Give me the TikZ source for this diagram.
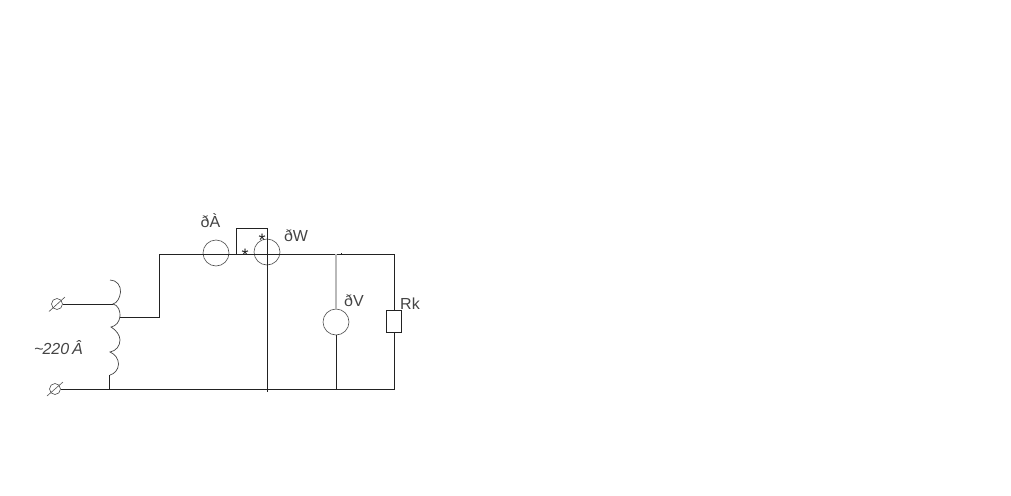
\documentclass[tikz,border=0pt]{standalone}
\usepackage{fontspec}
\setmainfont{Liberation Sans}
\definecolor{ink}{HTML}{222222}
\definecolor{txt}{HTML}{444444}
\tikzset{
  wire/.style={draw=ink,line width=0.9pt},
  meter/.style={circle,draw=ink!80,line width=0.6pt,minimum size=26pt,inner sep=0pt,fill=none},
  term/.style={circle,draw=ink!80,line width=0.6pt,minimum size=11pt,inner sep=0pt},
  lbl/.style={text=txt,font=\fontsize{16}{16}\selectfont,inner sep=0pt},
  starlbl/.style={text=ink,font=\fontsize{18}{18}\selectfont,inner sep=0pt},
  load/.style={rectangle,draw=ink,line width=0.7pt,minimum width=15pt,minimum height=22pt,inner sep=0pt}
}
\begin{document}
\begin{tikzpicture}[x=1pt,y=-1pt]
\useasboundingbox (0,0) rectangle (1011,495);
% nodes
\node[term] (t1) at (57,304) {};
\node[term] (t2) at (55,389) {};
\node[meter] (mA) at (216,253) {};
\node[meter] (mW) at (267,252) {};
\node[meter] (mV) at (336,322) {};
\node[load] (rk) at (394,321) {};
% coordinates
\coordinate (c0) at (110,280);
\coordinate (c1) at (113,304);
\coordinate (c2) at (111,327);
\coordinate (c3) at (110,352);
\coordinate (c4) at (110,375);
\coordinate (tap) at (120,317);
\coordinate (b0) at (109,389.4);
\coordinate (a) at (159,317);
\coordinate (b) at (159,254);
\coordinate (tr) at (394,254);
\coordinate (br) at (394,389.4);
\coordinate (j) at (336,254);
\coordinate (jb) at (336,389.4);
\coordinate (p1) at (236,254);
\coordinate (p2) at (236,228);
\coordinate (p3) at (267,228);
\coordinate (p4) at (267,392);
\coordinate (t2e) at (60.5,389.4);
% terminal slashes
\draw[ink!80,line width=0.6pt] (49,311.5) -- (65,297);
\draw[ink!80,line width=0.6pt] (47,396) -- (63,382);
% coil
\draw[ink!85,line width=0.7pt]
  (c0) .. controls (117,280) and (121,286) .. (120.5,292)
       .. controls (120,298) and (117,303) .. (c1)
       .. controls (118,305) and (120.5,311) .. (120,316)
       .. controls (119.5,322) and (116,326) .. (c2)
       .. controls (116,330) and (120,335) .. (120,340)
       .. controls (120,346) and (116,351) .. (c3)
       .. controls (115,354) and (118.5,359) .. (118.5,364)
       .. controls (118.5,370) and (114,374) .. (c4);
% wires
\draw[wire] (t1) -- (c1);
\draw[wire] (t2e) -- (b0) -- (br) -- (rk.south);
\draw[wire] (c4) -- (109,375) -- (b0);
\draw[wire] (tap) -- (a) -- (b) -- (tr) -- (rk.north);
\draw[wire] (p1) -- (p2) -- (p3) -- (p4);
\draw[gray!55,line width=1.2pt] (j) -- (mV.north);
\draw[wire] (mV.south) -- (jb);
\draw[ink,line width=0.5pt] (341,253) -- (341,254);
% labels
\node[lbl] (la) at (210.5,221) {ðÀ};
\node[lbl] (lw) at (296,235.5) {ðW};
\node[lbl] (lv) at (354,301) {ðV};
\node[lbl] (lr) at (410,304) {Rk};
\node[lbl,font=\fontsize{16}{16}\selectfont\itshape] (lu) at (58.5,348) {\string~\hspace{-1pt}220\hspace{-1.5pt} Â};
\node[starlbl] (s1) at (245,255.5) {*};
\node[starlbl] (s2) at (262,240) {*};
\end{tikzpicture}
\end{document}
